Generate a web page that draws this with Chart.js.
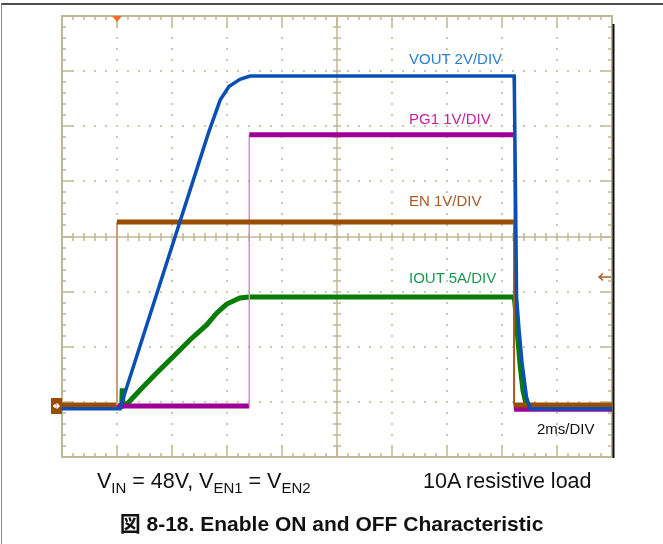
<!DOCTYPE html>
<html>
<head>
<meta charset="utf-8">
<script src="https://cdn.jsdelivr.net/npm/chart.js@4.4.1/dist/chart.umd.min.js"></script>
<style>
  html, body { margin: 0; padding: 0; background: #fff; }
  #wrap { position: relative; width: 663px; height: 544px; overflow: hidden; font-family: "Liberation Sans", Arial, sans-serif; }
  #frame { position: absolute; left: 1px; top: 3px; width: 662px; height: 541px; border-top: 2px solid #4d4d4d; border-left: 1px solid #8a8a8a; box-sizing: border-box; }
  #chartBox { position: absolute; left: 0; top: 0; width: 663px; height: 544px; }
  .lbl { position: absolute; white-space: nowrap; font-size: 15px; line-height: 15px; }
  .note { position: absolute; white-space: nowrap; font-size: 21.5px; line-height: 21.5px; color: #111; top: 470.8px; }
  .note sub { font-size: 15px; vertical-align: -5px; line-height: 0; }
  #caption { position: absolute; left: 0; width: 663px; top: 513.2px; text-align: center; font-size: 21px; line-height: 21px; font-weight: bold; color: #111;
             font-family: "Liberation Sans", Arial, "Noto Sans CJK JP", sans-serif; }
</style>
</head>
<body>
<div id="wrap">
  <div id="frame"></div>
  <div id="chartBox"><canvas id="scope"></canvas></div>

  <div class="lbl" style="left:409px; top:50.6px; color:#2a7fcf;">VOUT 2V/DIV</div>
  <div class="lbl" style="left:409px; top:110.6px; color:#c81e9a;">PG1 1V/DIV</div>
  <div class="lbl" style="left:409px; top:193.3px; color:#a85a24;">EN 1V/DIV</div>
  <div class="lbl" style="left:409px; top:269.6px; color:#1e9650;">IOUT 5A/DIV</div>
  <div class="lbl" style="left:537px; top:421.3px; color:#111;">2ms/DIV</div>

  <div class="note" style="left:97px;">V<sub>IN</sub> = 48V, V<sub>EN1</sub> = V<sub>EN2</sub></div>
  <div class="note" style="left:423px;">10A resistive load</div>
  <div id="caption">図 8-18. Enable ON and OFF Characteristic</div>
</div>

<script>
// --- scope settings ---
const X_DIVS = 10, Y_DIVS = 8;
const MS_PER_DIV = 2;
const GROUND_DIV = 0.925;      // ground marker, divisions above the bottom
const TRIGGER_MS = 2;
const TRIGGER_LEVEL_V = 2.34;  // EN trigger level (right arrow)

// --- traces (time in ms) ---
const voutTime  = [0, 2.11, 2.17, 5.32, 5.75, 6.07, 6.47, 6.84, 16.44, 16.45, 16.49, 16.53, 16.62, 16.73, 16.89, 17.02, 20];
const voutVolts = [-0.1, -0.1, 0.11, 9.89, 11.10, 11.59, 11.85, 11.97, 11.97, 11.47, 7.84, 3.96, 2.76, 1.56, 0.33, -0.1, -0.1];

const enTime  = [0, 2.0, 2.0, 16.44, 16.44, 20];
const enVolts = [0.02, 0.02, 3.34, 3.34, 0.02, 0.02];

const pgTime  = [0, 6.81, 6.81, 16.44, 16.44, 20];
const pgVolts = [0, 0, 4.92, 4.92, -0.06, -0.06];

const ioutTime = [0, 2.17, 2.19, 2.21, 2.40, 2.84, 3.44, 4.04, 4.65, 5.26, 5.63, 5.99, 6.47, 6.80, 16.44, 16.47, 16.55, 16.65, 16.76, 16.91, 20];
const ioutAmps = [0, 0, 1.6, 0, 0.27, 1.45, 2.99, 4.47, 5.99, 7.35, 8.44, 9.25, 9.80, 9.89, 9.89, 9.34, 6.89, 3.90, 1.45, -0.18, -0.18];

const GRID = '#cfc8ad';
const BORDER = '#bfb795';

const toPoints = (xs, ys) => xs.map((x, i) => ({ x: x, y: ys[i] }));

// channel axis: perDiv units per division, ground sits at GROUND_DIV
const channelAxis = perDiv => ({
  type: 'linear', display: false,
  min: -GROUND_DIV * perDiv,
  max: (Y_DIVS - GROUND_DIV) * perDiv
});

// vertical steps (EN / PG1 edges) are drawn thin and lighter
const edgeStyle = (rise, fall, w) => ({
  borderColor: c => c.p0.parsed.x === c.p1.parsed.x ? (c.p1.parsed.y > c.p0.parsed.y ? rise : fall) : undefined,
  borderWidth: c => c.p0.parsed.x === c.p1.parsed.x ? w : undefined
});

const scopeGrid = {
  id: 'scopeGrid',
  beforeDatasetsDraw(chart) {
    const { ctx, chartArea: a } = chart;
    const xs = chart.scales.x, ys = chart.scales.yDiv;
    const X = d => Math.round(xs.getPixelForValue(d * MS_PER_DIV));
    const Y = d => Math.round(ys.getPixelForValue(d));
    ctx.save();

    // dotted grid
    ctx.fillStyle = GRID;
    for (let i = 1; i < X_DIVS; i++) {
      if (i === X_DIVS / 2) continue;
      for (let j = 1; j < Y_DIVS * 5; j++) ctx.fillRect(X(i) - 1, Y(j / 5) - 1, 2, 2);
    }
    for (let j = 1; j < Y_DIVS; j++) {
      if (j === Y_DIVS / 2) continue;
      for (let i = 1; i < X_DIVS * 5; i++) ctx.fillRect(X(i / 5) - 1, Y(j) - 1, 2, 2);
    }

    ctx.strokeStyle = BORDER;
    ctx.lineWidth = 1.5;
    const line = (x1, y1, x2, y2) => { ctx.beginPath(); ctx.moveTo(x1, y1); ctx.lineTo(x2, y2); ctx.stroke(); };

    // centre cross with ticks
    const cx = X(X_DIVS / 2), cy = Y(Y_DIVS / 2);
    line(cx, a.top, cx, a.bottom);
    line(a.left, cy, a.right, cy);
    for (let i = 1; i < X_DIVS * 5; i++) line(X(i / 5), cy - 4, X(i / 5), cy + 4);
    for (let j = 1; j < Y_DIVS * 5; j++) line(cx - 4, Y(j / 5), cx + 4, Y(j / 5));

    // border with inward ticks
    for (let i = 1; i < X_DIVS * 5; i++) {
      const len = i % 5 === 0 ? 11 : 4;
      line(X(i / 5), a.top, X(i / 5), a.top + len);
      line(X(i / 5), a.bottom, X(i / 5), a.bottom - len);
    }
    for (let j = 1; j < Y_DIVS * 5; j++) {
      const len = j % 5 === 0 ? 11 : 4;
      line(a.left, Y(j / 5), a.left + len, Y(j / 5));
      line(a.right, Y(j / 5), a.right - len, Y(j / 5));
    }
    ctx.lineWidth = 2;
    ctx.strokeRect(a.left, a.top, a.right - a.left, a.bottom - a.top);

    // dark edge on the right of the screen
    ctx.strokeStyle = '#111';
    line(a.right + 1.5, a.top + 8, a.right + 1.5, a.bottom + 1);
    ctx.restore();
  },
  afterDatasetsDraw(chart) {
    const { ctx, chartArea: a } = chart;
    const xs = chart.scales.x;
    ctx.save();

    // trigger time marker
    const tx = xs.getPixelForValue(TRIGGER_MS);
    ctx.fillStyle = '#ff6a26';
    ctx.beginPath();
    ctx.moveTo(tx - 5, a.top);
    ctx.lineTo(tx + 5, a.top);
    ctx.lineTo(tx, a.top + 6);
    ctx.closePath();
    ctx.fill();

    // ground marker
    const gy = chart.scales.yDiv.getPixelForValue(GROUND_DIV);
    ctx.fillStyle = '#9a4c00';
    ctx.fillRect(a.left - 11, gy - 8, 11, 16);
    ctx.strokeStyle = '#fff';
    ctx.lineWidth = 1.5;
    ctx.beginPath();
    ctx.moveTo(a.left - 9, gy); ctx.lineTo(a.left - 3, gy);
    ctx.moveTo(a.left - 5.5, gy - 2.5); ctx.lineTo(a.left - 3, gy); ctx.lineTo(a.left - 5.5, gy + 2.5);
    ctx.moveTo(a.left - 7, gy - 2); ctx.lineTo(a.left - 7, gy + 2);
    ctx.stroke();

    // trigger level arrow
    const ty = chart.scales.yV1.getPixelForValue(TRIGGER_LEVEL_V);
    ctx.strokeStyle = '#a8602a';
    ctx.lineWidth = 1.5;
    ctx.beginPath();
    ctx.moveTo(a.right - 1, ty); ctx.lineTo(a.right - 13, ty);
    ctx.moveTo(a.right - 9, ty - 3.5); ctx.lineTo(a.right - 13, ty); ctx.lineTo(a.right - 9, ty + 3.5);
    ctx.stroke();
    ctx.restore();
  }
};

new Chart(document.getElementById('scope'), {
  type: 'line',
  data: {
    datasets: [
      {
        label: 'VOUT', data: toPoints(voutTime, voutVolts), yAxisID: 'yV2',
        borderColor: '#0a50b4', borderWidth: 3.5
      },
      {
        label: 'EN', data: toPoints(enTime, enVolts), yAxisID: 'yV1',
        borderColor: '#9a4c00', borderWidth: 5,
        segment: edgeStyle('#cc9d78', '#a45c1c', 2)
      },
      {
        label: 'PG1', data: toPoints(pgTime, pgVolts), yAxisID: 'yV1',
        borderColor: '#9e0096', borderWidth: 5,
        segment: edgeStyle('#d68ad6', '#cc5fcc', 1.5)
      },
      {
        label: 'IOUT', data: toPoints(ioutTime, ioutAmps), yAxisID: 'yA5',
        borderColor: '#077d07', borderWidth: 5
      }
    ]
  },
  options: {
    responsive: true,
    maintainAspectRatio: false,
    animation: false,
    events: [],
    layout: { padding: { left: 62, right: 51, top: 16, bottom: 87 } },
    elements: { point: { radius: 0 }, line: { tension: 0, borderJoinStyle: 'miter' } },
    scales: {
      x: { type: 'linear', display: false, min: 0, max: X_DIVS * MS_PER_DIV },
      yDiv: { type: 'linear', display: false, min: 0, max: Y_DIVS },
      yV2: channelAxis(2),
      yV1: channelAxis(1),
      yA5: channelAxis(5)
    },
    plugins: { legend: { display: false }, tooltip: { enabled: false }, title: { display: false } }
  },
  plugins: [scopeGrid]
});
</script>
</body>
</html>
